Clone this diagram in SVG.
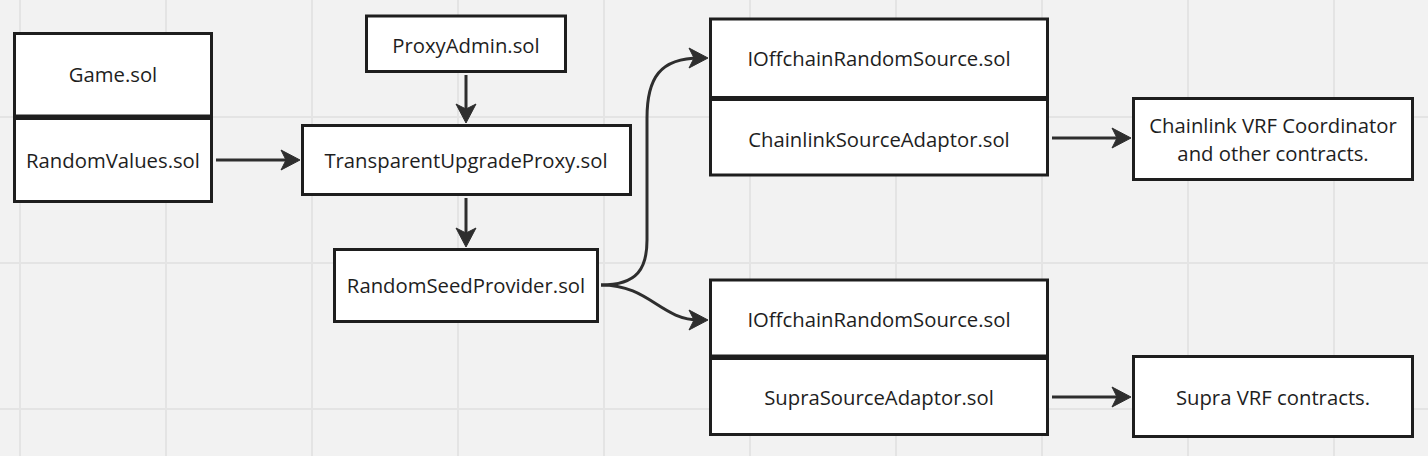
<svg xmlns="http://www.w3.org/2000/svg" width="1428" height="456" viewBox="0 0 1428 456">
<style>
.box{fill:#ffffff;stroke:#1e1e1e;stroke-width:3}
.t{font-family:"Open Sans","Noto Sans","Liberation Sans",sans-serif;font-size:20.3px;fill:#1e1e1e;text-anchor:middle}
.grid{stroke:#e4e4e4;stroke-width:2}
.edge{fill:none;stroke:#2e2e2e;stroke-width:3}
</style>
<defs>
<marker id="arr" markerUnits="userSpaceOnUse" orient="auto" markerWidth="24" markerHeight="24" viewBox="-12 -12 24 24" refX="0" refY="0" overflow="visible">
<path d="M-11,-10 L8,0 L-11,10 L-6,0 Z" fill="#2e2e2e" stroke="#2e2e2e" stroke-width="1" stroke-linejoin="round"/>
</marker>
</defs>
<rect x="0" y="0" width="1428" height="456" fill="#f2f2f2"/>
<g id="grid">
<line class="grid" x1="20" y1="0" x2="20" y2="456"/>
<line class="grid" x1="166" y1="0" x2="166" y2="456"/>
<line class="grid" x1="312" y1="0" x2="312" y2="456"/>
<line class="grid" x1="458" y1="0" x2="458" y2="456"/>
<line class="grid" x1="604" y1="0" x2="604" y2="456"/>
<line class="grid" x1="750" y1="0" x2="750" y2="456"/>
<line class="grid" x1="896" y1="0" x2="896" y2="456"/>
<line class="grid" x1="1042" y1="0" x2="1042" y2="456"/>
<line class="grid" x1="1188" y1="0" x2="1188" y2="456"/>
<line class="grid" x1="1334" y1="0" x2="1334" y2="456"/>
<line class="grid" x1="0" y1="117" x2="1428" y2="117"/>
<line class="grid" x1="0" y1="263" x2="1428" y2="263"/>
<line class="grid" x1="0" y1="409" x2="1428" y2="409"/>
</g>
<g id="connectors">
<path class="edge" d="M216,160 L292,160" marker-end="url(#arr)"/>
<path class="edge" d="M466,75 L466,115" marker-end="url(#arr)"/>
<path class="edge" d="M466,198 L466,239" marker-end="url(#arr)"/>
<path class="edge" d="M601,285 C638,285 647,268 647,240 L647,118 C647,78 660,58 700,58" marker-end="url(#arr)"/>
<path class="edge" d="M601,285 C650,285 660,320 700,320" marker-end="url(#arr)"/>
<path class="edge" d="M1052,138 L1123,138" marker-end="url(#arr)"/>
<path class="edge" d="M1052,397 L1123,397" marker-end="url(#arr)"/>
</g>
<g id="game">
<rect class="box" x="14.5" y="33.5" width="197" height="82.5"/>
<text class="t" x="113" y="82">Game.sol</text>
</g>
<g id="randomvalues">
<rect class="box" x="14.5" y="118.5" width="197" height="83"/>
<text class="t" x="113" y="168">RandomValues.sol</text>
</g>
<g id="proxyadmin">
<rect class="box" x="366.5" y="16" width="199" height="55.5"/>
<text class="t" x="466" y="53">ProxyAdmin.sol</text>
</g>
<g id="transparentupgradeproxy">
<rect class="box" x="302.5" y="125.5" width="328" height="69"/>
<text class="t" x="466" y="168">TransparentUpgradeProxy.sol</text>
</g>
<g id="randomseedprovider">
<rect class="box" x="334.5" y="249.5" width="263" height="72"/>
<text class="t" x="466" y="293">RandomSeedProvider.sol</text>
</g>
<g id="ioffchain1">
<rect class="box" x="710.5" y="19" width="337" height="78.5"/>
<text class="t" x="879" y="66">IOffchainRandomSource.sol</text>
</g>
<g id="chainlinkadaptor">
<rect class="box" x="710.5" y="99.5" width="337" height="75.5"/>
<text class="t" x="879" y="147">ChainlinkSourceAdaptor.sol</text>
</g>
<g id="ioffchain2">
<rect class="box" x="710.5" y="280" width="337" height="76"/>
<text class="t" x="879" y="327">IOffchainRandomSource.sol</text>
</g>
<g id="supraadaptor">
<rect class="box" x="710.5" y="358.5" width="337" height="76"/>
<text class="t" x="879" y="405">SupraSourceAdaptor.sol</text>
</g>
<g id="chainlinkvrf">
<rect class="box" x="1133.5" y="98.5" width="279" height="81"/>
<text class="t" x="1273" y="133">Chainlink VRF Coordinator</text>
<text class="t" x="1273" y="161">and other contracts.</text>
</g>
<g id="supravrf">
<rect class="box" x="1133.5" y="356.5" width="279" height="80"/>
<text class="t" x="1273" y="405">Supra VRF contracts.</text>
</g>
</svg>
